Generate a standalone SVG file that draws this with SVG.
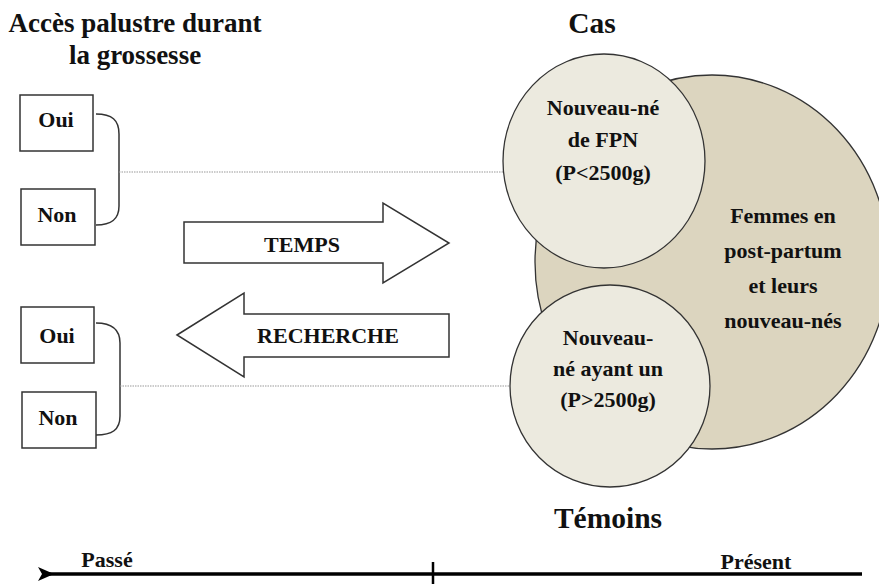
<svg xmlns="http://www.w3.org/2000/svg" width="879" height="585" viewBox="0 0 879 585">
<defs>
<style>
text{font-family:"Liberation Serif","Times New Roman",serif;font-weight:bold;fill:#111;text-anchor:middle}
.t22{font-size:22px}
.t27{font-size:27px}
.t30{font-size:29.5px}
.box{fill:#fff;stroke:#333;stroke-width:1.5}
.brk{fill:none;stroke:#333;stroke-width:1.5}
.dot{fill:none;stroke:#9a9a9a;stroke-width:1.2;stroke-dasharray:1.5 1}
.small{fill:#ECEADF;stroke:#333;stroke-width:1.3}
.big{fill:#DCD5BF;stroke:#333;stroke-width:1.3}
.bigarrow{fill:#fff;stroke:#333;stroke-width:1.5;stroke-linejoin:miter}
</style>
<marker id="ah" markerWidth="16" markerHeight="14" refX="8" refY="7" orient="auto" markerUnits="userSpaceOnUse" viewBox="0 0 16 14">
<path d="M16,0 L0,7 L16,14 L12,7 Z" fill="#000"/>
</marker>
</defs>

<text class="t27" x="135" y="32">Accès palustre durant</text>
<text class="t27" x="135" y="64">la grossesse</text>
<text class="t30" x="592" y="33">Cas</text>
<text class="t30" x="608" y="528">Témoins</text>

<g id="connectors">
<path class="brk" d="M96,114 C112,114 119,120 119,134 L119,206 C119,219 112,225 96,225"/>
<path class="brk" d="M96,323 C112,323 120,329 120,343 L120,416 C120,430 112,435 96,435"/>
<line class="dot" x1="119" y1="172" x2="504" y2="172"/>
<line class="dot" x1="120" y1="386" x2="512" y2="386"/>
</g>

<g id="oui1"><rect class="box" x="20" y="95" width="73" height="56"/><text class="t22" x="56" y="127">Oui</text></g>
<g id="non1"><rect class="box" x="21" y="189" width="74" height="56"/><text class="t22" x="57" y="222">Non</text></g>
<g id="oui2"><rect class="box" x="21" y="307" width="73" height="56"/><text class="t22" x="57" y="343">Oui</text></g>
<g id="non2"><rect class="box" x="22" y="392" width="74" height="56"/><text class="t22" x="58" y="425">Non</text></g>

<g id="temps">
<polygon class="bigarrow" points="184,222 383,222 383,203 449,243 383,283 383,263 184,263"/>
<text class="t22" x="302" y="252">TEMPS</text>
</g>
<g id="recherche">
<polygon class="bigarrow" points="177,335 244,293 244,314 449,314 449,357 244,357 244,377"/>
<text class="t22" x="328" y="343">RECHERCHE</text>
</g>

<g id="femmes">
<ellipse class="big" cx="712" cy="262" rx="177" ry="187"/>
<text class="t22" x="783" y="223">Femmes en</text>
<text class="t22" x="783" y="258">post-partum</text>
<text class="t22" x="783" y="293">et leurs</text>
<text class="t22" x="783" y="328">nouveau-nés</text>
</g>
<g id="cas">
<ellipse class="small" cx="604" cy="161" rx="101" ry="107"/>
<text class="t22" x="603" y="115">Nouveau-né</text>
<text class="t22" x="603" y="147">de FPN</text>
<text class="t22" x="603" y="180">(P&lt;2500g)</text>
</g>
<g id="temoins">
<ellipse class="small" cx="610" cy="386" rx="100" ry="101"/>
<text class="t22" x="608" y="345">Nouveau-</text>
<text class="t22" x="608" y="376">né ayant un</text>
<text class="t22" x="608" y="407">(P&gt;2500g)</text>
</g>

<g id="axis">
<line x1="862" y1="574" x2="46" y2="574" stroke="#000" stroke-width="3.5" marker-end="url(#ah)"/>
<line x1="433" y1="562" x2="433" y2="584" stroke="#000" stroke-width="2.5"/>
<text class="t22" x="107" y="567">Passé</text>
<text class="t22" x="756" y="569">Présent</text>
</g>
</svg>
